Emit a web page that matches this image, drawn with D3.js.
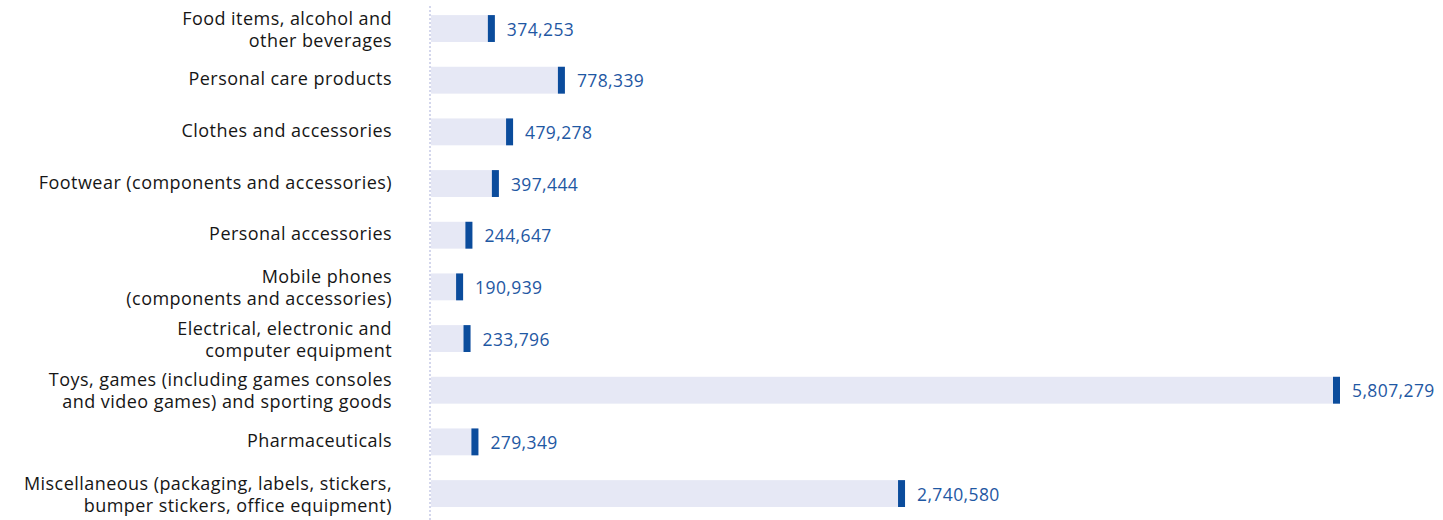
<!DOCTYPE html>
<html>
<head>
<meta charset="utf-8">
<script src="https://cdn.jsdelivr.net/npm/d3@7"></script>
<style>
  body { margin: 0; background: #fff; }
  text { font-family: "Open Sans", sans-serif; }
</style>
</head>
<body>
<div id="chart-root"></div>
<script>
// categories, each one split in its display lines
const categories = [
  ['Food items, alcohol and', 'other beverages'],
  ['Personal care products'],
  ['Clothes and accessories'],
  ['Footwear (components and accessories)'],
  ['Personal accessories'],
  ['Mobile phones', '(components and accessories)'],
  ['Electrical, electronic and', 'computer equipment'],
  ['Toys, games (including games consoles', 'and video games) and sporting goods'],
  ['Pharmaceuticals'],
  ['Miscellaneous (packaging, labels, stickers,', 'bumper stickers, office equipment)']
];
const values = [374253, 778339, 479278, 397444, 244647, 190939, 233796, 5807279, 279349, 2740580];

// axis max used by the original (largest bar is capped)
const x_max = 5250000;

const width = 1443, height = 520;
const margin = {left: 430, top: 2.7, bottom: 0.6};
const label_x = 392;

const rows = categories.map((c, i) => ({lines: c, value: values[i], key: i}));

const svg = d3.select('#chart-root')
    .append('svg')
    .attr('width', width)
    .attr('height', height);

const x_scale = d3.scaleLinear()
    .domain([0, x_max])
    .range([margin.left, margin.left + 910])
    .clamp(true);

const y_scale = d3.scaleBand()
    .domain(rows.map(d => d.key))
    .range([margin.top, height - margin.bottom])
    .paddingInner(0.48)
    .paddingOuter(0.24);

const bh = y_scale.bandwidth();
const mid = d => y_scale(d.key) + bh / 2;

// dotted baseline
svg.append('line')
    .attr('x1', margin.left).attr('x2', margin.left)
    .attr('y1', 6).attr('y2', height)
    .attr('stroke', '#d3d6ec')
    .attr('stroke-width', 2)
    .attr('stroke-dasharray', '2,2');

const row = svg.append('g').selectAll('g')
    .data(rows)
    .join('g');

row.append('rect')
    .attr('x', margin.left + 1)
    .attr('y', d => y_scale(d.key))
    .attr('width', d => x_scale(d.value) - margin.left - 1)
    .attr('height', bh)
    .attr('fill', '#e6e8f5');

row.append('rect')
    .attr('x', d => x_scale(d.value) - 7)
    .attr('y', d => y_scale(d.key))
    .attr('width', 7)
    .attr('height', bh)
    .attr('fill', '#0b4c9c');

row.append('text')
    .attr('x', d => x_scale(d.value) + 12)
    .attr('y', d => mid(d) + 7)
    .attr('fill', '#1f58a3')
    .attr('font-size', 17.5)
    .attr('letter-spacing', 0.4)
    .text(d => d3.format(',')(d.value));

row.append('text')
    .attr('text-anchor', 'end')
    .attr('font-size', 18)
    .attr('letter-spacing', 0.45)
    .attr('fill', '#161616')
    .selectAll('tspan')
    .data(d => d.lines.map((l, j) => ({l, j, n: d.lines.length, c: mid(d)})))
    .join('tspan')
    .attr('x', label_x)
    .attr('y', t => t.n === 1 ? t.c + 5 : t.c - 4 + t.j * 22)
    .text(t => t.l);
</script>
</body>
</html>
